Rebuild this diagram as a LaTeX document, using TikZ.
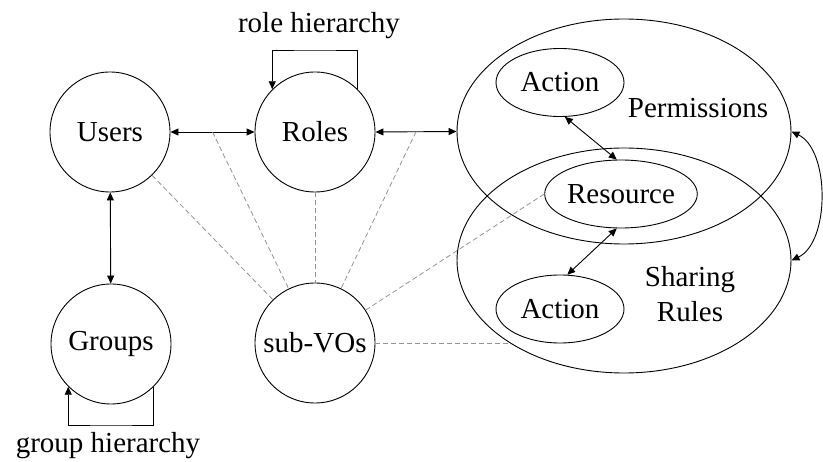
\documentclass[tikz,border=0pt]{standalone}
\usepackage{fontspec}
\setmainfont{Liberation Serif}
\usetikzlibrary{shapes.geometric,arrows.meta,calc}

\tikzset{
  entity/.style={circle,draw,line width=0.9pt,minimum size=120pt,inner sep=0pt},
  bigset/.style={ellipse,draw,line width=0.9pt,minimum width=334pt,minimum height=225pt,inner sep=0pt},
  item/.style={ellipse,draw,line width=0.9pt,minimum width=128pt,minimum height=68pt,inner sep=0pt},
  tag/.style={inner sep=0pt,align=center},
  link/.style={line width=0.9pt,{Triangle[length=8pt,width=7pt]}-{Triangle[length=8pt,width=7pt]}},
  loopback/.style={line width=0.9pt,-{Triangle[length=8pt,width=7pt]}},
  assoc/.style={gray!85,line width=0.8pt,dash pattern=on 5pt off 3pt}
}

\begin{document}
\begin{tikzpicture}[x=1pt,y=-1pt,font=\fontsize{29}{35}\selectfont]
\useasboundingbox (0,0) rectangle (823,462);

% entity circles
\node[entity] (users)  at (110,132) {Users};
\node[entity] (roles)  at (315,132) {Roles};
\node[entity] (groups) at (111,344) {Groups};
\node[entity] (subvo)  at (315,343) {sub-VOs};

% permission and sharing-rule sets
\node[bigset] (perm)  at (624,131.5) {};
\node[bigset] (share) at (624,260.5) {};
\node[tag] (permlbl)  at (698,108) {Permissions};
\node[tag] (sharelbl) at (690,294) {Sharing\\Rules};

\node[item] (act1) at (560,82.5) {Action};
\node[item] (res)  at (621,194) {Resource};
\node[item] (act2) at (560,309) {Action};

% hierarchy loops
\coordinate (rtop) at (315,50);
\coordinate (gbot) at (111,425);
\draw[loopback] (roles.45) |- (rtop) -| (roles.135);
\draw[loopback] (groups.-45) |- (gbot) -| (groups.-135);
\node[tag] (rolehier)  at (319,26) {role hierarchy};
\node[tag] (grouphier) at (108,446) {group hierarchy};

% associations
\draw[link] (users) -- (roles);
\draw[link] (users) -- (groups);
\draw[link] (roles.east) -- (perm.west);
\draw[link] (act1.-82) -- (res.97);
\draw[link] (res.-97) -- (act2.78);
\draw[link] (perm.east) .. controls (830,150) and (830,242) .. (share.east);

% sub-VO relations
\coordinate (urmid) at ($(users.east)!0.5!(roles.west)$);
\coordinate (rpmid) at ($(roles.east)!0.5!(perm.west)$);
\draw[assoc] (users) -- (subvo);
\draw[assoc] (urmid) -- (subvo);
\draw[assoc] (roles) -- (subvo);
\draw[assoc] (rpmid) -- (subvo);
\draw[assoc] (res.west) -- (subvo);
\draw[assoc] (subvo.east) -- (subvo.east -| share.215);
\end{tikzpicture}
\end{document}
